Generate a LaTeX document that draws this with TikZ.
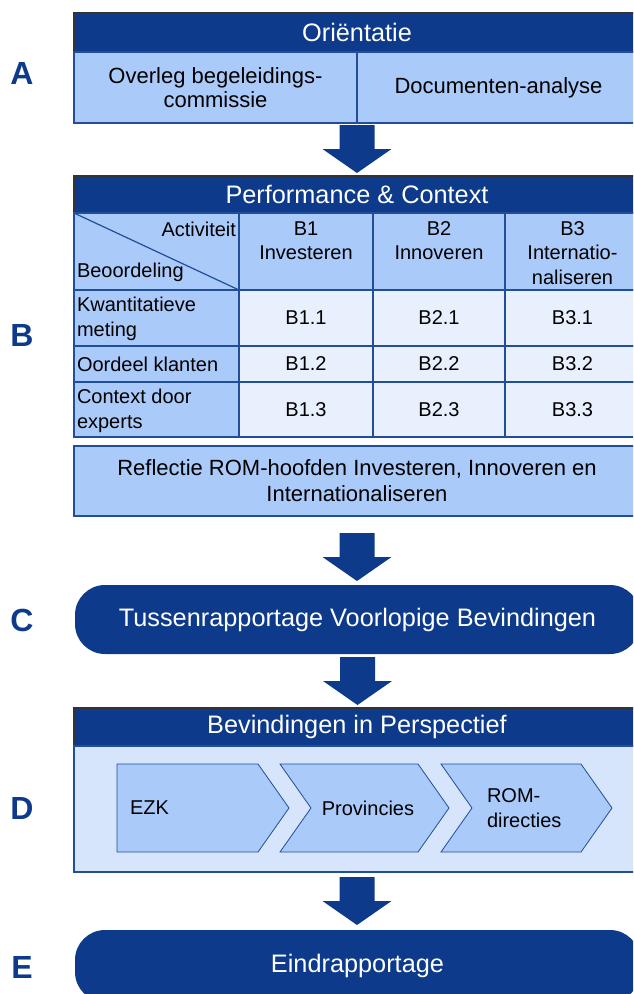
\documentclass[tikz,border=0pt]{standalone}
\usepackage{fontspec}
\setmainfont{Liberation Sans}
\usetikzlibrary{calc}
\definecolor{dblue}{RGB}{13,58,138}
\definecolor{lblue}{RGB}{170,202,250}
\definecolor{cblue}{RGB}{232,240,253}
\definecolor{bblue}{RGB}{214,228,252}
\definecolor{lineblue}{RGB}{32,78,152}
\newcommand\hdrfont{\fontsize{25.3}{29}\selectfont}
\newcommand\cellfont{\fontsize{22}{23.5}\selectfont}
\newcommand\tabfont{\fontsize{20}{24.5}\selectfont}
\newcommand\reffont{\fontsize{22}{26}\selectfont}
\newcommand\letfont{\fontsize{32}{32}\selectfont\bfseries}
\newcommand\flowarrow[2]{\fill[dblue] let \p1=(#1), \p2=(#2) in
  (\x1-17.5pt,\y1) -- (\x1+17.5pt,\y1) -- (\x1+17.5pt,\y2+24pt) -- (\x1+34.5pt,\y2+24pt)
  -- (\x1,\y2) -- (\x1-34.5pt,\y2+24pt) -- (\x1-17.5pt,\y2+24pt) -- cycle;}
\begin{document}
\begin{tikzpicture}[x=1pt,y=-1pt,
  every node/.style={inner sep=0pt, outer sep=0pt},
  rect/.style={draw=lineblue, line width=1.2pt, anchor=north west},
  hdr/.style={rect, draw=black!80, fill=dblue, text=white, font=\hdrfont},
  lcell/.style={rect, fill=lblue},
  dcell/.style={rect, fill=cblue, font=\tabfont},
  txt/.style={font=\tabfont, text=black},
  pill/.style={anchor=north west, fill=dblue, rounded corners=30pt, text=white, font=\hdrfont},
  chev/.style={fill=lblue, draw=lineblue, line width=0.8pt},
  letter/.style={font=\letfont, text=dblue}]
\useasboundingbox (0,0) rectangle (633,994);
\clip (0,0) rectangle (633,994);

% ---------- A ----------
\node[letter] (LA) at (22,73) {A};
\node[hdr, minimum width=566pt, minimum height=39pt] (Ahead) at (74,13) {Oriëntatie};
\node[lcell, minimum width=283pt, minimum height=71pt, font=\cellfont, align=center] (A1) at (74,52) {Overleg begeleidings-\\commissie};
\node[lcell, minimum width=283pt, minimum height=71pt, font=\cellfont] (A2) at (357,52) {Documenten-analyse};

% ---------- B ----------
\node[letter] (LB) at (22,335) {B};
\node[hdr, minimum width=566pt, minimum height=37pt] (Bhead) at (74,176) {Performance \& Context};
\node[lcell, minimum width=165pt, minimum height=77pt] (corner) at (74,213) {};
\node[lcell, minimum width=134pt, minimum height=77pt] (col1) at (239,213) {};
\node[lcell, minimum width=132pt, minimum height=77pt] (col2) at (373,213) {};
\node[lcell, minimum width=135pt, minimum height=77pt] (col3) at (505,213) {};
\draw[lineblue, line width=1.2pt] (corner.north west) -- (corner.south east);
\node[txt, anchor=east] (tAct) at (236,229) {Activiteit};
\node[txt, anchor=west] (tBeo) at (77,272) {Beoordeling};
\node[txt, align=center] (tB1) at (306,240.5) {B1\\Investeren};
\node[txt, align=center] (tB2) at (439,240.5) {B2\\Innoveren};
\node[txt, align=center] (tB3) at (572.5,253) {B3\\Internatio-\\naliseren};

\node[lcell, minimum width=165pt, minimum height=56pt] (r1) at (74,290) {};
\node[lcell, minimum width=165pt, minimum height=36pt] (r2) at (74,346) {};
\node[lcell, minimum width=165pt, minimum height=55pt] (r3) at (74,382) {};
\node[txt, anchor=west, align=left] (tr1) at (77,319) {Kwantitatieve\\meting};
\node[txt, anchor=west] (tr2) at (77,364) {Oordeel klanten};
\node[txt, anchor=west, align=left] (tr3) at (77,411) {Context door\\experts};

\node[dcell, minimum width=134pt, minimum height=56pt] (c11) at (239,290) {B1.1};
\node[dcell, minimum width=132pt, minimum height=56pt] (c21) at (373,290) {B2.1};
\node[dcell, minimum width=135pt, minimum height=56pt] (c31) at (505,290) {B3.1};
\node[dcell, minimum width=134pt, minimum height=36pt] (c12) at (239,346) {B1.2};
\node[dcell, minimum width=132pt, minimum height=36pt] (c22) at (373,346) {B2.2};
\node[dcell, minimum width=135pt, minimum height=36pt] (c32) at (505,346) {B3.2};
\node[dcell, minimum width=134pt, minimum height=55pt] (c13) at (239,382) {B1.3};
\node[dcell, minimum width=132pt, minimum height=55pt] (c23) at (373,382) {B2.3};
\node[dcell, minimum width=135pt, minimum height=55pt] (c33) at (505,382) {B3.3};

\node[lcell, minimum width=566pt, minimum height=70pt, font=\reffont, align=center] (Refl) at (74,446)
  {Reflectie ROM-hoofden Investeren, Innoveren en\\Internationaliseren};

% ---------- C ----------
\node[letter] (LC) at (22,620) {C};
\node[pill, minimum width=565pt, minimum height=69pt] (C) at (75,585) {Tussenrapportage Voorlopige Bevindingen};

% ---------- D ----------
\node[letter] (LD) at (22,808) {D};
\node[hdr, minimum width=566pt, minimum height=38pt] (Dhead) at (74,708) {Bevindingen in Perspectief};
\node[rect, fill=bblue, minimum width=566pt, minimum height=126pt] (Dbody) at (74,746) {};
\draw[chev] (117,764) -- (258,764) -- (289,808) -- (258,852) -- (117,852) -- cycle;
\draw[chev] (280,764) -- (418,764) -- (449,808) -- (418,852) -- (280,852) -- (311,808) -- cycle;
\draw[chev] (441,764) -- (581,764) -- (612,808) -- (581,852) -- (441,852) -- (472,808) -- cycle;
\node[txt, anchor=west] (tEZK) at (130,808) {EZK};
\node[txt] (tProv) at (368,808) {Provincies};
\node[txt, anchor=west, align=left] (tROM) at (487,808) {ROM-\\directies};

% ---------- E ----------
\node[letter] (LE) at (22,967) {E};
\node[pill, minimum width=565pt, minimum height=72pt] (E) at (75,930) {Eindrapportage};

% ---------- arrows ----------
\coordinate (a1t) at ($(A1.south east)+(0,2)$);
\coordinate (a1h) at ($(Bhead.north)+(0,-3)$);
\coordinate (a2t) at ($(Refl.south)+(0,17)$);
\coordinate (a2h) at ($(C.north)+(0,-4)$);
\coordinate (a3t) at ($(C.south)+(0,3)$);
\coordinate (a3h) at ($(Dhead.north)+(0,-3)$);
\coordinate (a4t) at ($(Dbody.south)+(0,5)$);
\coordinate (a4h) at ($(E.north)+(0,-5)$);
\flowarrow{a1t}{a1h}
\flowarrow{a2t}{a2h}
\flowarrow{a3t}{a3h}
\flowarrow{a4t}{a4h}
\end{tikzpicture}
\end{document}
